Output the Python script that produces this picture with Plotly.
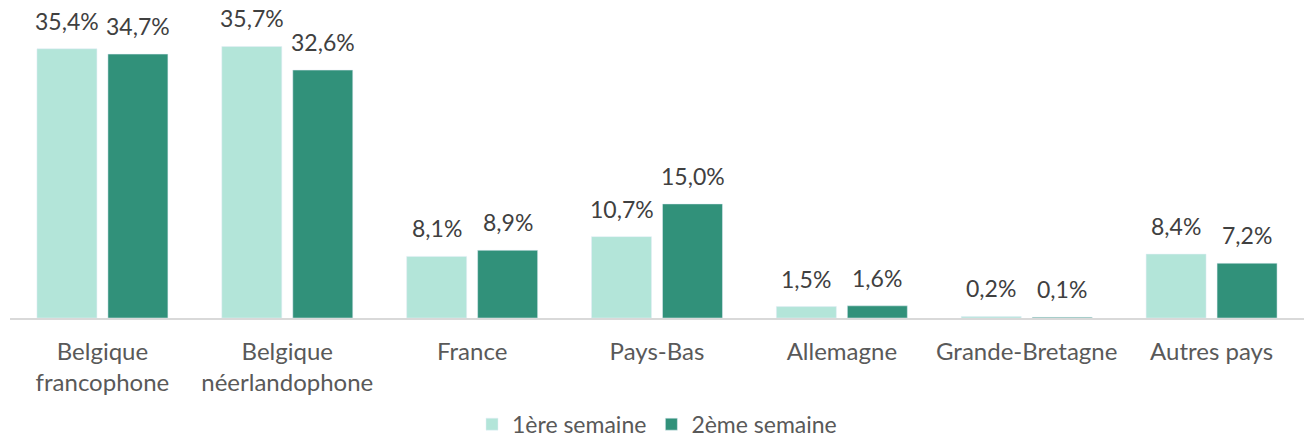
import plotly.graph_objects as go

categories = ["Belgique<br>francophone", "Belgique<br>néerlandophone", "France", "Pays-Bas",
              "Allemagne", "Grande-Bretagne", "Autres pays"]
semaine1 = [35.4, 35.7, 8.1, 10.7, 1.5, 0.2, 8.4]
semaine2 = [34.7, 32.6, 8.9, 15.0, 1.6, 0.1, 7.2]
series = [("1ère semaine", semaine1, "#B3E5D9", -35.5), ("2ème semaine", semaine2, "#31917A", 35.5)]

fig = go.Figure()
for name, vals, color, shift in series:
    fig.add_trace(go.Bar(x=categories, y=vals, name=name, marker_color=color))
    for cat, v in zip(categories, vals):
        fig.add_annotation(x=cat, y=v, xref="x", yref="y", text=f"{v:.1f}%".replace(".", ","),
                           showarrow=False, yanchor="bottom", xshift=shift, yshift=12,
                           font=dict(size=23, color="#404040"))

fig.update_layout(
    width=1304, height=441,
    margin=dict(l=10, r=0, t=10, b=123, autoexpand=False),
    barmode="group", bargap=0.232, bargroupgap=0.155,
    plot_bgcolor="white", paper_bgcolor="white",
    font=dict(family="Lato", size=24, color="#595959"),
    legend=dict(orientation="h", x=0.5, xanchor="center", y=-0.275, yanchor="top",
                font=dict(size=23, color="#595959"), traceorder="normal"),
    showlegend=True,
)
fig.update_xaxes(showline=True, linecolor="#D9D9D9", linewidth=2, ticks="",
                 tickfont=dict(size=24), ticklabelstandoff=11)
fig.update_yaxes(range=[0, 40.5], showgrid=False, showticklabels=False, zeroline=False)

fig.write_html("out.html", config={"displayModeBar": False},
               post_script="document.body.style.margin='0';")
